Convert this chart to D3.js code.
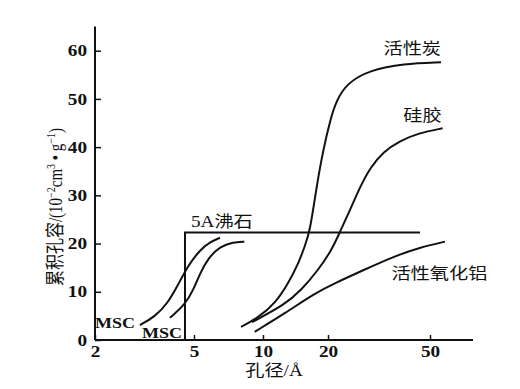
<!DOCTYPE html>
<html>
<head>
<meta charset="utf-8">
<script src="https://cdn.jsdelivr.net/npm/d3@7"></script>
<style>
  body { margin: 0; background: #fff; }
  svg { display: block; background: #fff; }
  .tick text { font-family: "Liberation Serif", "DejaVu Serif", serif; font-weight: bold; font-size: 16px; fill: #111; }
  .tick line { stroke: #111; stroke-width: 1.5; }
  .label { font-family: "Liberation Serif", "Noto Sans CJK SC", serif; font-size: 16px; fill: #111; }
  .latin { font-size: 15px; font-weight: bold; }
  .curve { fill: none; stroke: #111; stroke-width: 2; }
</style>
</head>
<body>
<svg id="chart" width="520" height="389"></svg>
<script>
// 刻度
const xTicks = [2, 5, 10, 20, 50];
const yTicks = [0, 10, 20, 30, 40, 50, 60];

// 吸附剂名称
const seriesNames = ["5A沸石", "MSC", "MSC", "活性炭", "硅胶", "活性氧化铝"];

// 累积孔容曲线 [孔径 Å, 孔容 10^-2 cm3/g]
const zeolite5A = [[4.6, 0], [4.6, 22.3], [45.7, 22.3]];
const mscLeft = [[3.03, 3.1], [3.48, 4.8], [3.93, 7.7], [4.31, 11.4], [4.73, 15.4], [5.31, 18.7], [5.87, 20.3], [6.49, 21.2]];
const mscRight = [[4.0, 4.6], [4.6, 7.3], [4.97, 10.4], [5.31, 13.8], [5.77, 17.0], [6.49, 19.4], [7.42, 20.3], [8.29, 20.4]];
const carbon = [[8.02, 2.7], [9.51, 4.6], [11.4, 7.6], [13.1, 11.8], [14.6, 15.9], [15.6, 19.4], [16.5, 22.5],
  [17.7, 31.8], [19.0, 39.4], [20.4, 45.6], [21.5, 49.5], [23.7, 53.3], [29.2, 56.0], [39.3, 57.3], [55.2, 57.6]];
const silica = [[8.95, 3.7], [12.6, 7.3], [15.1, 10.4], [18.0, 14.5], [20.7, 18.7], [22.3, 22.5], [24.4, 27.0],
  [26.7, 31.8], [29.2, 35.7], [32.9, 39.1], [38.2, 41.3], [45.0, 42.9], [56.0, 43.9]];
const alumina = [[9.2, 1.7], [12.6, 5.5], [17.4, 9.7], [21.3, 11.8], [27.5, 14.5], [36.0, 17.3], [45.7, 19.2], [57.2, 20.4]];

const svg = d3.select("#chart");

// 原图横轴不是严格的对数刻度，用分段对数比例尺
const x = d3.scaleLog().domain(xTicks).range([95, 194, 263, 328, 430]);
const y = d3.scaleLinear().domain([0, 60]).range([340, 50.7]);
const xEnd = 473;
const stretch = "scale(1.2,1)"; // 原图文字略横向拉伸

// 坐标轴线
svg.append("line")
  .attr("x1", x(2)).attr("x2", xEnd)
  .attr("y1", y(0)).attr("y2", y(0))
  .attr("stroke", "#111").attr("stroke-width", 2);
svg.append("line")
  .attr("x1", x(2)).attr("x2", x(2))
  .attr("y1", y(0)).attr("y2", y(65))
  .attr("stroke", "#111").attr("stroke-width", 2);

const xAxis = svg.append("g")
  .attr("transform", `translate(0,${y(0)})`)
  .call(d3.axisBottom(x).tickValues(xTicks).tickFormat(d3.format("d"))
    .tickSizeInner(-5).tickSizeOuter(0).tickPadding(6));
xAxis.select(".domain").remove();
xAxis.selectAll("text").attr("transform", stretch);

const yAxis = svg.append("g")
  .attr("transform", `translate(${x(2)},0)`)
  .call(d3.axisLeft(y).tickValues(yTicks).tickSizeInner(-6).tickSizeOuter(0));
yAxis.select(".domain").remove();
yAxis.selectAll("text").attr("x", null).attr("transform", `translate(-8,0) ${stretch}`);

// 曲线
const smooth = d3.line().x(d => x(d[0])).y(d => y(d[1])).curve(d3.curveBasis);
const straight = d3.line().x(d => x(d[0])).y(d => y(d[1]));

svg.append("path").attr("class", "curve").attr("d", straight(zeolite5A));
[mscLeft, mscRight, carbon, silica, alumina].forEach(s => {
  svg.append("path").attr("class", "curve").attr("d", smooth(s));
});

// 标注
function label(text, px, py, anchor, cls) {
  svg.append("text")
    .attr("class", cls ? "label " + cls : "label")
    .attr("text-anchor", anchor)
    .attr("transform", `translate(${px},${py}) ${stretch}`)
    .text(text);
}
const last = s => s[s.length - 1];
label(seriesNames[0], x(zeolite5A[1][0]) + 6, y(zeolite5A[1][1]) - 5, "start");
label(seriesNames[1], x(mscLeft[0][0]) - 5, y(mscLeft[0][1]) + 3, "end", "latin");
label(seriesNames[2], x(mscRight[0][0]) + 12, y(0) - 2, "end", "latin");
label(seriesNames[3], x(last(carbon)[0]), y(last(carbon)[1]) - 8, "end");
label(seriesNames[4], x(last(silica)[0]) - 1, y(last(silica)[1]) - 7, "end");
label(seriesNames[5], x(alumina[5][0]) - 2, y(alumina[5][1]) + 22, "start");

// 轴标题
svg.append("text")
  .attr("class", "label")
  .attr("text-anchor", "middle")
  .attr("transform", `translate(274,376) ${stretch}`)
  .text("孔径/Å");

const yTitle = svg.append("text")
  .attr("class", "label")
  .attr("text-anchor", "start")
  .attr("transform", `translate(62,286) ${stretch} rotate(-90)`);
yTitle.append("tspan").text("累积孔容");
yTitle.append("tspan").attr("font-size", 15).text("/(10");
yTitle.append("tspan").attr("baseline-shift", "super").attr("font-size", 10).text("−2");
yTitle.append("tspan").attr("font-size", 15).text("cm");
yTitle.append("tspan").attr("baseline-shift", "super").attr("font-size", 10).text("3");
yTitle.append("tspan").attr("font-size", 15).text(" • g");
yTitle.append("tspan").attr("baseline-shift", "super").attr("font-size", 10).text("−1");
yTitle.append("tspan").attr("font-size", 15).text(")");
</script>
</body>
</html>
